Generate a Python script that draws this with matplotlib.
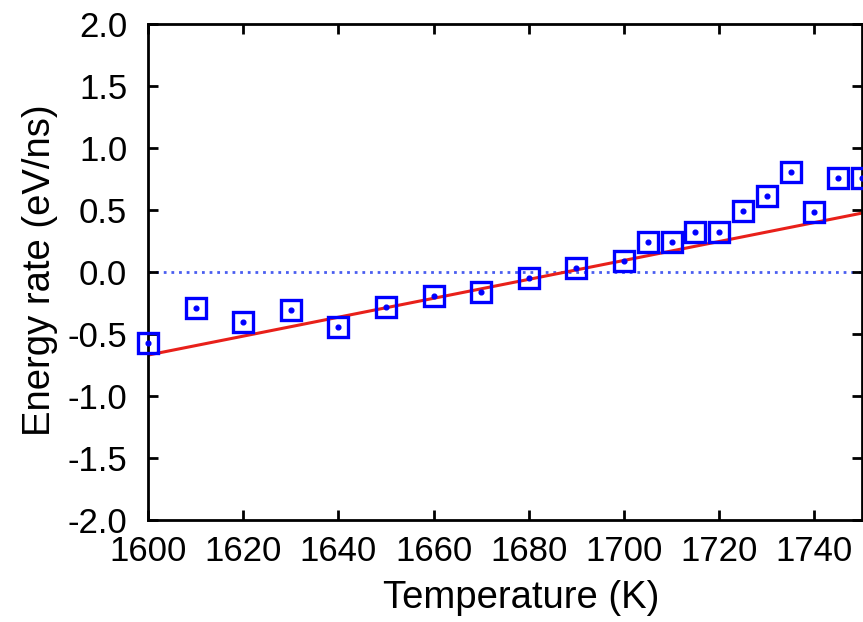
import matplotlib
matplotlib.use('Agg')
import matplotlib.pyplot as plt
import numpy as np

plt.rcParams['font.family'] = ['Liberation Sans', 'DejaVu Sans']

# Measured energy rate vs temperature
temperature = [1600, 1610, 1620, 1630, 1640, 1650, 1660, 1670, 1680, 1690, 1700,
               1705, 1710, 1715, 1720, 1725, 1730, 1735, 1740, 1745, 1750]
energy_rate = [-0.57, -0.29, -0.40, -0.31, -0.44, -0.28, -0.19, -0.16, -0.05, 0.03, 0.09,
               0.24, 0.24, 0.32, 0.32, 0.49, 0.61, 0.81, 0.48, 0.76, 0.76]

# Linear fit line endpoints
fit_t = [1600, 1750]
fit_e = [-0.67, 0.475]

fig = plt.figure(figsize=(8.63, 6.22), dpi=100)
ax = fig.add_axes([0.1715, 0.164, 0.8273, 0.7974])

ax.axhline(0, color='#4a5ef0', linestyle=(0, (1, 1.75)), linewidth=2.0, zorder=1)
ax.plot(fit_t, fit_e, color='#e8201a', linewidth=2.2, zorder=2)
ax.plot(temperature, energy_rate, linestyle='none', marker='s', markersize=14.5,
        markerfacecolor='none', markeredgecolor='#0000ff', markeredgewidth=2.4,
        clip_on=False, zorder=3)
ax.plot(temperature, energy_rate, linestyle='none', marker='o', markersize=3.4,
        color='#0000ff', clip_on=False, zorder=4)

ax.set_xlim(1600, 1750)
ax.set_ylim(-2.0, 2.0)
ax.set_xticks(np.arange(1600, 1741, 20))
ax.set_yticks(np.arange(-2.0, 2.01, 0.5))
ax.set_yticklabels(['%.1f' % v for v in np.arange(-2.0, 2.01, 0.5)])

for s in ax.spines.values():
    s.set_linewidth(2)
ax.tick_params(direction='in', length=7, width=2, top=True, right=True,
               labelsize=25)
ax.tick_params(axis='x', pad=11)
ax.tick_params(axis='y', pad=15)
ax.set_xlabel('Temperature (K)', fontsize=27.5)
ax.set_ylabel('Energy rate (eV/ns)', fontsize=27.5)
ax.xaxis.set_label_coords(0.522, -0.121)
ax.yaxis.set_label_coords(-0.126, 0.504)

fig.savefig('out.png', dpi=100)
